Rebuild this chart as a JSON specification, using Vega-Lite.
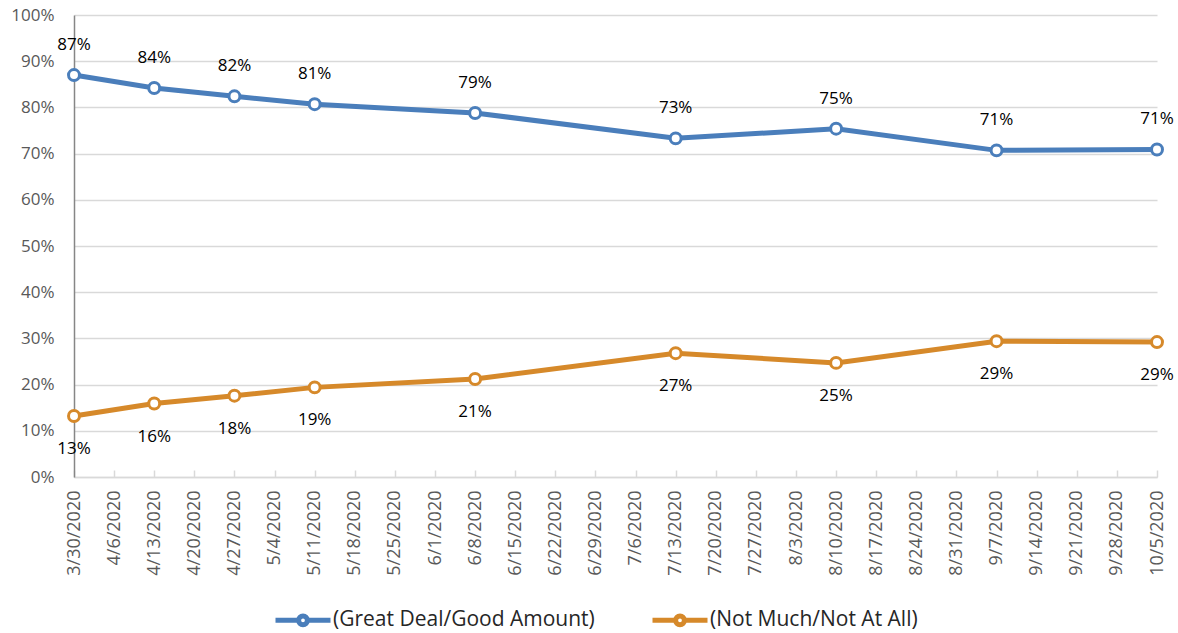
{
  "$schema": "https://vega.github.io/schema/vega-lite/v6.json",
  "width": 1083,
  "height": 462,
  "autosize": {"type": "none"},
  "padding": {"left": 74, "top": 15, "right": 21, "bottom": 156},
  "config": {"font": "Open Sans", "view": {"stroke": null}},
  "data": {
    "values": [
      {"date": "2020-03-30", "series": "(Great Deal/Good Amount)", "value": 0.870},
      {"date": "2020-04-13", "series": "(Great Deal/Good Amount)", "value": 0.842},
      {"date": "2020-04-27", "series": "(Great Deal/Good Amount)", "value": 0.824},
      {"date": "2020-05-11", "series": "(Great Deal/Good Amount)", "value": 0.807},
      {"date": "2020-06-08", "series": "(Great Deal/Good Amount)", "value": 0.788},
      {"date": "2020-07-13", "series": "(Great Deal/Good Amount)", "value": 0.733},
      {"date": "2020-08-10", "series": "(Great Deal/Good Amount)", "value": 0.754},
      {"date": "2020-09-07", "series": "(Great Deal/Good Amount)", "value": 0.707},
      {"date": "2020-10-05", "series": "(Great Deal/Good Amount)", "value": 0.709},
      {"date": "2020-03-30", "series": "(Not Much/Not At All)", "value": 0.132},
      {"date": "2020-04-13", "series": "(Not Much/Not At All)", "value": 0.159},
      {"date": "2020-04-27", "series": "(Not Much/Not At All)", "value": 0.176},
      {"date": "2020-05-11", "series": "(Not Much/Not At All)", "value": 0.194},
      {"date": "2020-06-08", "series": "(Not Much/Not At All)", "value": 0.212},
      {"date": "2020-07-13", "series": "(Not Much/Not At All)", "value": 0.268},
      {"date": "2020-08-10", "series": "(Not Much/Not At All)", "value": 0.247},
      {"date": "2020-09-07", "series": "(Not Much/Not At All)", "value": 0.294},
      {"date": "2020-10-05", "series": "(Not Much/Not At All)", "value": 0.292}
    ]
  },
  "encoding": {
    "x": {
      "field": "date",
      "type": "temporal",
      "scale": {
        "type": "utc",
        "domain": [
          {"year": 2020, "month": 3, "date": 30, "utc": true},
          {"year": 2020, "month": 10, "date": 5, "utc": true}
        ]
      },
      "axis": {
        "title": null,
        "values": [
          {"year": 2020, "month": 3, "date": 30, "utc": true},
          {"year": 2020, "month": 4, "date": 6, "utc": true},
          {"year": 2020, "month": 4, "date": 13, "utc": true},
          {"year": 2020, "month": 4, "date": 20, "utc": true},
          {"year": 2020, "month": 4, "date": 27, "utc": true},
          {"year": 2020, "month": 5, "date": 4, "utc": true},
          {"year": 2020, "month": 5, "date": 11, "utc": true},
          {"year": 2020, "month": 5, "date": 18, "utc": true},
          {"year": 2020, "month": 5, "date": 25, "utc": true},
          {"year": 2020, "month": 6, "date": 1, "utc": true},
          {"year": 2020, "month": 6, "date": 8, "utc": true},
          {"year": 2020, "month": 6, "date": 15, "utc": true},
          {"year": 2020, "month": 6, "date": 22, "utc": true},
          {"year": 2020, "month": 6, "date": 29, "utc": true},
          {"year": 2020, "month": 7, "date": 6, "utc": true},
          {"year": 2020, "month": 7, "date": 13, "utc": true},
          {"year": 2020, "month": 7, "date": 20, "utc": true},
          {"year": 2020, "month": 7, "date": 27, "utc": true},
          {"year": 2020, "month": 8, "date": 3, "utc": true},
          {"year": 2020, "month": 8, "date": 10, "utc": true},
          {"year": 2020, "month": 8, "date": 17, "utc": true},
          {"year": 2020, "month": 8, "date": 24, "utc": true},
          {"year": 2020, "month": 8, "date": 31, "utc": true},
          {"year": 2020, "month": 9, "date": 7, "utc": true},
          {"year": 2020, "month": 9, "date": 14, "utc": true},
          {"year": 2020, "month": 9, "date": 21, "utc": true},
          {"year": 2020, "month": 9, "date": 28, "utc": true},
          {"year": 2020, "month": 10, "date": 5, "utc": true}
        ],
        "format": "%-m/%-d/%Y",
        "labelAngle": -90,
        "labelFontSize": 18,
        "labelColor": "#595959",
        "labelOverlap": false,
        "labelBound": false,
        "labelFlush": false,
        "domainColor": "#d9d9d9",
        "domainWidth": 1.5,
        "tickColor": "#d9d9d9",
        "tickWidth": 1.5,
        "tickSize": -7,
        "labelPadding": 20,
        "grid": false
      }
    },
    "y": {
      "field": "value",
      "type": "quantitative",
      "scale": {"domain": [0, 1]},
      "axis": {
        "title": null,
        "format": ".0%",
        "values": [0, 0.1, 0.2, 0.3, 0.4, 0.5, 0.6, 0.7, 0.8, 0.9, 1],
        "grid": true,
        "gridColor": "#d9d9d9",
        "gridWidth": 1.5,
        "domainColor": "#868686",
        "domainWidth": 1.5,
        "ticks": false,
        "labelFontSize": 17,
        "labelColor": "#595959",
        "labelPadding": 20
      }
    },
    "color": {
      "field": "series",
      "type": "nominal",
      "scale": {
        "domain": ["(Great Deal/Good Amount)", "(Not Much/Not At All)"],
        "range": ["#4a7ebb", "#d6892a"]
      },
      "legend": {
        "title": null,
        "orient": "none",
        "legendX": 199,
        "legendY": 575,
        "direction": "horizontal",
        "symbolType": "M-1,0H-0.16M0.16,0H1M-0.16,0A0.16,0.16 0 1,0 0.16,0A0.16,0.16 0 1,0 -0.16,0",
        "symbolSize": 3025,
        "symbolStrokeWidth": 5,
        "symbolFillColor": "white",
        "labelFontSize": 21,
        "labelColor": "#262626",
        "labelOffset": 0,
        "labelLimit": 500,
        "columnPadding": 47
      }
    }
  },
  "layer": [
    {"mark": {"type": "line", "strokeWidth": 5}},
    {"mark": {"type": "point", "shape": "circle", "filled": false, "fill": "white", "size": 120, "strokeWidth": 3, "opacity": 1}},
    {
      "transform": [{"filter": "datum.series === '(Great Deal/Good Amount)'"}],
      "mark": {"type": "text", "dy": -30, "fontSize": 17},
      "encoding": {
        "text": {"field": "value", "type": "quantitative", "format": ".0%"},
        "color": {"value": "#000000"}
      }
    },
    {
      "transform": [{"filter": "datum.series === '(Not Much/Not At All)'"}],
      "mark": {"type": "text", "dy": 33, "fontSize": 17},
      "encoding": {
        "text": {"field": "value", "type": "quantitative", "format": ".0%"},
        "color": {"value": "#000000"}
      }
    }
  ]
}
